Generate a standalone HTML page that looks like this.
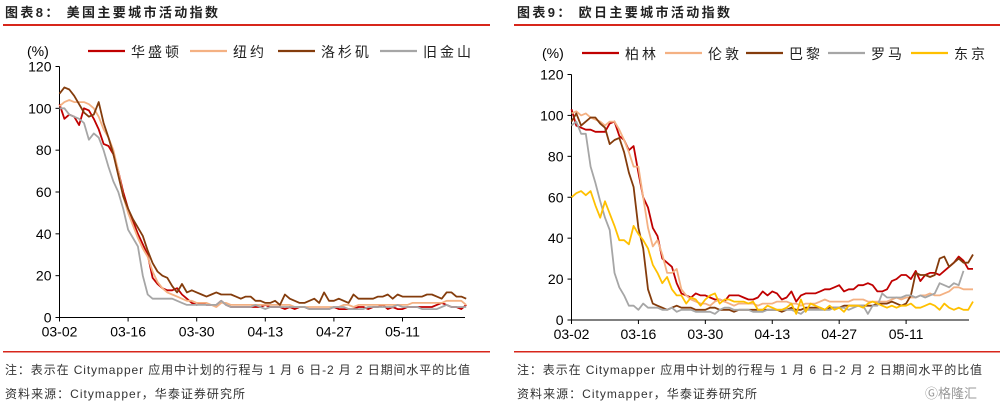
<!DOCTYPE html>
<html><head><meta charset="utf-8"><style>
body{margin:0;background:#fff;width:1003px;height:408px;overflow:hidden;font-family:"Liberation Sans","Noto Sans CJK SC",sans-serif}
svg text{font-family:"Liberation Sans","Noto Sans CJK SC",sans-serif}
</style></head><body>
<svg id="s" width="1003" height="408">
<text x="5" y="17" font-size="13" font-weight="bold" fill="#222" textLength="213">图表8：  美国主要城市活动指数</text>
<text x="517" y="17" font-size="13" font-weight="bold" fill="#222" textLength="213">图表9：  欧日主要城市活动指数</text>
<rect x="3" y="24" width="487" height="2" fill="#d7261b"/>
<rect x="514" y="24" width="486" height="2" fill="#d7261b"/>
<rect x="3" y="351" width="487" height="1.5" fill="#d7261b"/>
<rect x="514" y="351" width="486" height="1.5" fill="#d7261b"/>
<text x="5" y="374" font-size="12" fill="#333" textLength="465">注：表示在 Citymapper 应用中计划的行程与 1 月 6 日-2 月 2 日期间水平的比值</text>
<text x="5" y="398" font-size="12" fill="#333" textLength="240">资料来源：Citymapper，华泰证券研究所</text>
<text x="517" y="374" font-size="12" fill="#333" textLength="465">注：表示在 Citymapper 应用中计划的行程与 1 月 6 日-2 月 2 日期间水平的比值</text>
<text x="517" y="398" font-size="12" fill="#333" textLength="240">资料来源：Citymapper，华泰证券研究所</text>
<text x="925" y="398" font-size="13" fill="#999">Ⓖ格隆汇</text>
</svg>
<script>
const yTicks=[0,20,40,60,80,100,120];
const xTicks=["03-02","03-16","03-30","04-13","04-27","05-11"];
const usNames=["华盛顿","纽约","洛杉矶","旧金山"];
const usWashington=[102,95,97,96,92,100,99,95,90,83,82,78,70,60,52,46,40,35,30,19,16,14,13,13,14,11,9,7,6,7,6,6,6,8,6,5,5,5,5,5,5,5,6,5,5,5,4,5,4,5,5,4,4,4,4,4,5,4,4,4,4,5,5,4,5,5,6,4,5,4,4,5,5,5,5,5,5,6,7,6,5,5,4,6];
const usNewYork=[101,103,104,103,103,103,102,100,96,90,86,80,70,58,50,44,38,33,29,22,17,14,12,11,10,9,8,8,7,7,7,6,5,7,7,6,6,6,6,6,6,6,6,6,6,6,6,6,5,5,5,5,5,5,5,5,5,5,6,6,5,6,6,6,6,6,6,6,6,6,6,6,7,7,7,7,7,7,7,8,8,8,8,6];
const usLosAngeles=[107,110,109,106,102,98,96,97,103,93,86,78,68,58,52,47,43,39,32,26,22,20,19,15,12,16,12,13,12,11,10,11,12,11,11,11,10,9,10,10,8,8,7,7,8,6,11,9,8,7,7,8,9,7,12,8,8,9,8,7,11,9,9,9,9,10,10,11,9,11,10,10,10,10,10,11,11,10,9,12,12,10,10,9];
const usSanFrancisco=[100,100,97,96,95,93,85,88,86,80,72,65,60,52,42,38,34,20,11,9,9,9,9,9,8,7,6,6,6,6,6,6,6,8,6,5,5,5,5,5,6,5,4,5,5,5,5,5,5,5,5,4,4,4,4,4,5,5,5,4,4,4,4,5,5,5,5,5,5,6,5,5,5,5,4,4,4,4,5,6,5,5,5,5];
const euNames=["柏林","伦敦","巴黎","罗马","东京"];
const euBerlin=[103,95,94,93,93,92,92,92,96,97,90,88,83,85,72,60,55,45,41,30,28,26,18,13,12,11,13,12,12,11,10,10,9,12,12,12,11,10,10,11,14,12,14,13,10,11,14,9,12,13,13,13,14,15,15,16,17,14,15,15,17,17,18,17,14,14,15,19,20,22,22,20,24,19,22,23,23,22,24,26,28,31,29,25,25];
const euLondon=[101,102,100,101,99,98,97,95,97,97,93,88,82,75,75,60,45,36,39,32,23,23,25,15,12,10,9,8,8,7,9,10,9,8,7,8,8,8,8,7,8,8,8,9,9,9,8,8,7,8,8,8,9,10,9,9,9,9,9,10,10,10,9,9,9,9,9,10,11,10,11,11,11,12,12,13,12,12,13,14,16,16,15,15,15];
const euParis=[97,101,95,97,99,99,96,94,86,88,89,82,72,65,45,35,15,8,7,6,5,6,7,6,6,6,5,5,5,6,6,5,5,5,4,5,5,5,5,5,5,5,5,5,4,5,6,5,5,6,6,6,6,5,6,6,6,7,7,7,7,7,7,7,8,8,8,9,8,7,8,12,23,22,22,21,22,30,31,26,28,30,28,28,32];
const euRome=[95,97,91,91,75,67,58,50,44,23,16,12,7,7,5,8,6,6,6,5,5,6,4,5,5,5,4,4,4,4,3,5,6,6,5,5,5,5,4,4,4,5,5,5,5,5,5,4,3,5,5,5,5,5,5,6,6,6,5,6,7,7,3,7,7,13,11,11,11,11,12,12,11,12,11,12,13,18,17,16,18,17,24];
const euTokyo=[60,62,63,61,63,56,50,58,52,46,39,39,37,46,42,39,35,27,23,18,21,15,12,12,8,11,10,7,10,12,13,8,10,10,9,9,9,8,9,5,5,7,6,5,5,6,8,3,10,4,8,7,6,5,7,5,6,4,7,7,7,6,8,9,8,7,6,7,6,7,7,8,6,6,7,8,7,5,8,6,5,6,5,5,9];

const svg=document.getElementById('s');
const NS='http://www.w3.org/2000/svg';
function mk(tag,attrs){const e=document.createElementNS(NS,tag);for(const k in attrs)e.setAttribute(k,attrs[k]);svg.appendChild(e);return e;}
function chart(c){
  const ys=v=>c.y0-(v/120)*(c.y0-c.y120);
  const ax=mk('line',{x1:c.x0,x2:c.x0,y1:c.y120,y2:c.y0,stroke:'#000','stroke-width':1});
  
  
  const bx=mk('line',{x1:c.x0,x2:c.x1,y1:c.y0,y2:c.y0,stroke:'#000','stroke-width':1});
  
  
  yTicks.forEach(v=>{
    const t=mk('line',{x1:c.x0-4,x2:c.x0,y1:ys(v),y2:ys(v),stroke:'#000'});
    
    
    const l=mk('text',{x:c.x0-8,y:ys(v)+5,'font-size':14,'text-anchor':'end',fill:'#000'});
    l.textContent=v;
    
    
  });
  xTicks.forEach((d,i)=>{
    const x=c.x0+i*14*c.ppd;
    const t=mk('line',{x1:x,x2:x,y1:c.y0,y2:c.y0+4,stroke:'#000'});
    
    
    const l=mk('text',{x:x,y:c.y0+19,'font-size':14,'text-anchor':'middle',fill:'#000'});
    l.textContent=d;
    
    
  });
  const u=mk('text',{x:c.ux,y:c.ly+5,'font-size':14,fill:'#000'});
  u.textContent='(%)';
  
  
  c.series.forEach((s,k)=>{
    const pts=s.d.map((v,i)=>(c.x0+i*c.ppd).toFixed(1)+','+ys(v).toFixed(1)).join(' ');
    const pl=mk('polyline',{points:pts,fill:'none',stroke:s.col,'stroke-width':1.8,'stroke-linejoin':'round'});
    
    
    const lx=c.lx[k];
    const ll=mk('line',{x1:lx,x2:lx+37,y1:c.ly,y2:c.ly,stroke:s.col,'stroke-width':2.2});
    
    
    const lt=mk('text',{x:lx+43,y:c.ly+6,'font-size':14,fill:'#222','letter-spacing':'3'});
    lt.textContent=s.n;
    
    
  });
}
chart({p:'us',x0:59.5,x1:465,y0:317.5,y120:66.5,ppd:4.9,ux:27,ly:51,lx:[88,190,278,380],
 series:[{id:'washington',n:usNames[0],d:usWashington,col:'#c00000'},{id:'new-york',n:usNames[1],d:usNewYork,col:'#f4b183'},{id:'los-angeles',n:usNames[2],d:usLosAngeles,col:'#843c0c'},{id:'san-francisco',n:usNames[3],d:usSanFrancisco,col:'#a6a6a6'}]});
chart({p:'eu',x0:571.5,x1:969,y0:320,y120:74.5,ppd:4.78,ux:542,ly:53,lx:[582,665,746,828,911],
 series:[{id:'berlin',n:euNames[0],d:euBerlin,col:'#c00000'},{id:'london',n:euNames[1],d:euLondon,col:'#f4b183'},{id:'paris',n:euNames[2],d:euParis,col:'#843c0c'},{id:'rome',n:euNames[3],d:euRome,col:'#a6a6a6'},{id:'tokyo',n:euNames[4],d:euTokyo,col:'#ffc000'}]});
</script>
</body></html>
